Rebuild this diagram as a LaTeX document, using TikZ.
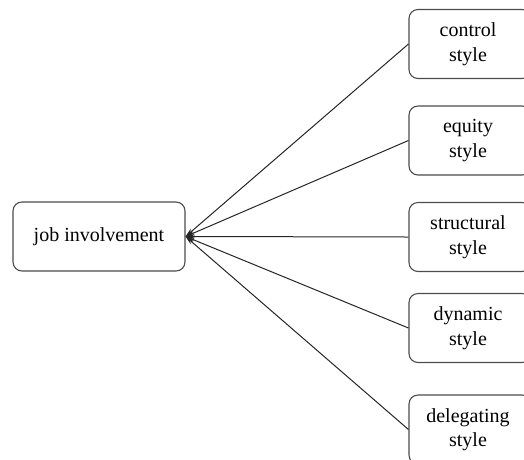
\documentclass[tikz,border=0pt]{standalone}
\usepackage{fontspec}
\setmainfont{Liberation Serif}
\usetikzlibrary{arrows.meta}
\begin{document}
\begin{tikzpicture}[x=1pt,y=-1pt,
  box/.style={draw=black!70, line width=1.1pt, rounded corners=9pt, align=center,
    font=\fontsize{20}{24.5}\selectfont, inner sep=0pt, minimum height=69pt},
  leftbox/.style={box, minimum width=172pt},
  rightbox/.style={box, minimum width=122pt},
  conn/.style={draw=black!85, line width=1pt, -{Stealth[length=9pt,width=5pt]}}]
\useasboundingbox (0,0) rectangle (524,459);
\clip (0,0) rectangle (524,459);
\node[leftbox] (job) at (99,236.5) {job involvement};
\node[rightbox] (control) at (470,44) {\hspace*{-4pt}control\\\hspace*{-4pt}style};
\node[rightbox] (equity) at (470,140.5) {\hspace*{-4pt}equity\\\hspace*{-4pt}style};
\node[rightbox] (structural) at (470,237) {\hspace*{-4pt}structural\\\hspace*{-4pt}style};
\node[rightbox] (dynamic) at (470,328) {\hspace*{-4pt}dynamic\\\hspace*{-4pt}style};
\node[rightbox] (delegating) at (470,429.5) {\hspace*{-4pt}delegating\\\hspace*{-4pt}style};
\foreach \n in {control,equity,structural,dynamic,delegating}
  \draw[conn] (\n.west) -- (job.east);
\end{tikzpicture}
\end{document}
